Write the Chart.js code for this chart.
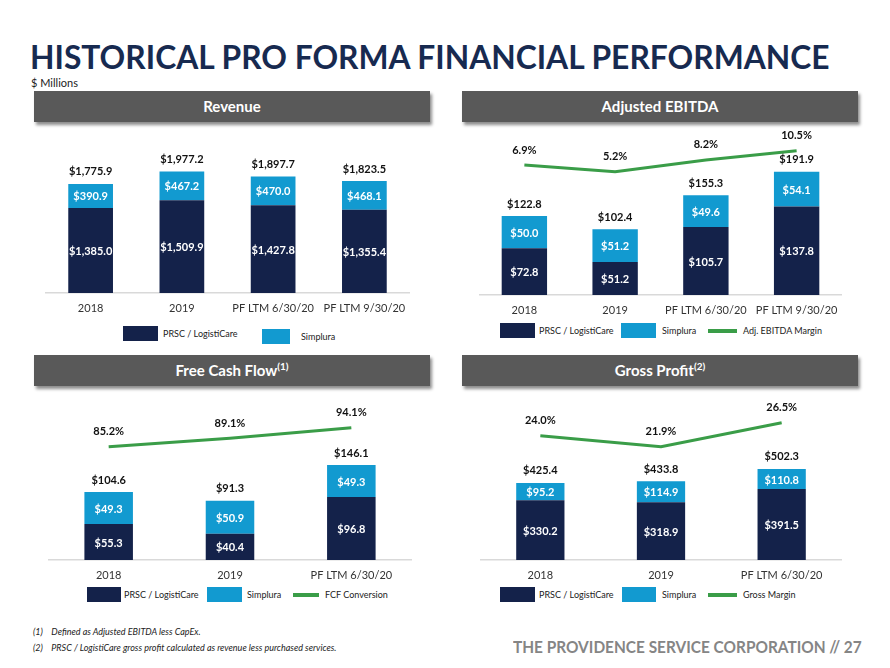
<!DOCTYPE html>
<html>
<head>
<meta charset="utf-8">
<script src="https://cdn.jsdelivr.net/npm/chart.js@4.4.0/dist/chart.umd.min.js"></script>
<style>
  body { margin: 0; background: #fff; font-family: Lato, 'Liberation Sans', sans-serif; }
  #page { position: relative; width: 890px; height: 668px; overflow: hidden; }
  .abs { position: absolute; }
  #title { left: 30px; top: 36px; font-size: 33px; font-weight: 700; color: #172a50; white-space: nowrap; transform-origin: left top; }
  #units { left: 31px; top: 76px; font-size: 11px; color: #222; }
  .hdr { background: #595959; color: #fff; font-weight: bold; font-size: 15px; text-align: center;
         line-height: 31px; height: 31px; width: 396px; box-shadow: 2px 3px 3px rgba(0,0,0,0.45); }
  .hdr sup { font-size: 10px; line-height: 0; }
  .lg-box { position: absolute; height: 15px; }
  .lg-line { position: absolute; height: 4px; background: #3a9d48; }
  .lg-txt { position: absolute; font-size: 9px; color: #222; white-space: nowrap; }
  .note { left: 33px; font-size: 9px; font-style: italic; color: #222; white-space: nowrap; }
  #footer { left: 513px; top: 636px; font-size: 17px; font-weight: bold; color: #858585; white-space: nowrap; transform-origin: left top; }
  canvas { position: absolute; }
</style>
</head>
<body>
<div id="page">
  <div id="title" class="abs">HISTORICAL PRO FORMA FINANCIAL PERFORMANCE</div>
  <div id="units" class="abs">$ Millions</div>

  <div class="abs hdr" style="left:34px;top:91px">Revenue</div>
  <div class="abs hdr" style="left:462px;top:91px">Adjusted EBITDA</div>
  <div class="abs hdr" style="left:34px;top:355px">Free Cash Flow<sup>(1)</sup></div>
  <div class="abs hdr" style="left:462px;top:355px">Gross Profit<sup>(2)</sup></div>

  <canvas id="revChart" style="left:45px;top:130px" width="365" height="188"></canvas>
  <canvas id="ebitdaChart" style="left:479px;top:125px" width="363" height="195"></canvas>
  <canvas id="fcfChart" style="left:48px;top:395px" width="364" height="190"></canvas>
  <canvas id="gpChart" style="left:480px;top:395px" width="362" height="190"></canvas>

  <div id="legends"></div>

  <div class="abs note" style="top:626px">(1)&nbsp;&nbsp;&nbsp;&nbsp;Defined as Adjusted EBITDA less CapEx.</div>
  <div class="abs note" style="top:642px">(2)&nbsp;&nbsp;&nbsp;&nbsp;PRSC / LogistiCare gross profit calculated as revenue less purchased services.</div>
  <div id="footer" class="abs">THE PROVIDENCE SERVICE CORPORATION // 27</div>
</div>

<script>
// Data
const revCategories = ['2018', '2019', 'PF LTM 6/30/20', 'PF LTM 9/30/20'];
const revPrsc = [1385.0, 1509.9, 1427.8, 1355.4];
const revSimplura = [390.9, 467.2, 470.0, 468.1];
const revTotal = [1775.9, 1977.2, 1897.7, 1823.5];

const ebitdaCategories = ['2018', '2019', 'PF LTM 6/30/20', 'PF LTM 9/30/20'];
const ebitdaPrsc = [72.8, 51.2, 105.7, 137.8];
const ebitdaSimplura = [50.0, 51.2, 49.6, 54.1];
const ebitdaTotal = [122.8, 102.4, 155.3, 191.9];
const ebitdaMargin = [6.9, 5.2, 8.2, 10.5];

const fcfCategories = ['2018', '2019', 'PF LTM 6/30/20'];
const fcfPrsc = [55.3, 40.4, 96.8];
const fcfSimplura = [49.3, 50.9, 49.3];
const fcfTotal = [104.6, 91.3, 146.1];
const fcfConversion = [85.2, 89.1, 94.1];

const gpCategories = ['2018', '2019', 'PF LTM 6/30/20'];
const gpPrsc = [330.2, 318.9, 391.5];
const gpSimplura = [95.2, 114.9, 110.8];
const gpTotal = [425.4, 433.8, 502.3];
const gpMargin = [24.0, 21.9, 26.5];

const NAVY = '#14224a';
const BLUE = '#129ad0';
const GREEN = '#3a9d48';
const FONT = "Lato, 'Liberation Sans', sans-serif";

// fit title/footer widths
function fitWidth(id, w) {
    const el = document.getElementById(id);
    el.style.transform = 'scaleX(' + (w / el.scrollWidth) + ')';
}
fitWidth('title', 800);
fitWidth('footer', 349);

const money = v => '$' + v.toLocaleString('en-US', { minimumFractionDigits: 1, maximumFractionDigits: 1 });

// value labels: segments, totals, percents
const valueLabels = {
    id: 'valueLabels',
    afterDatasetsDraw(chart) {
        const ctx = chart.ctx;
        const totals = chart.options.plugins.valueLabels.totals;
        ctx.save();
        ctx.font = 'bold 11px ' + FONT;
        ctx.textAlign = 'center';
        ctx.textBaseline = 'middle';
        chart.data.datasets.forEach((ds, i) => {
            const meta = chart.getDatasetMeta(i);
            meta.data.forEach((el, j) => {
                if (ds.type === 'line') {
                    ctx.fillStyle = '#111';
                    ctx.fillText(ds.data[j].toFixed(1) + '%', el.x, el.y - 15);
                } else {
                    ctx.fillStyle = '#fff';
                    ctx.fillText(money(ds.data[j]), el.x, (el.y + el.base) / 2 + 1);
                }
            });
        });
        const topMeta = chart.getDatasetMeta(1);
        topMeta.data.forEach((el, j) => {
            ctx.fillStyle = '#111';
            ctx.fillText(money(totals[j]), el.x, el.y - 12);
        });
        ctx.restore();
    }
};

function makeChart(id, categories, prsc, simplura, totals, line, lineLabel, cfg) {
    const datasets = [
        { label: 'PRSC / LogistiCare', data: prsc, backgroundColor: NAVY, order: 2,
          barPercentage: cfg.barPct, categoryPercentage: 1 },
        { label: 'Simplura', data: simplura, backgroundColor: BLUE, order: 2,
          barPercentage: cfg.barPct, categoryPercentage: 1 }
    ];
    if (line) {
        datasets.push({ type: 'line', label: lineLabel, data: line, yAxisID: 'y2',
            borderColor: GREEN, borderWidth: 3, pointRadius: 0, tension: 0, order: 1, clip: false });
    }
    return new Chart(document.getElementById(id), {
        type: 'bar',
        data: { labels: categories, datasets: datasets },
        options: {
            responsive: false,
            animation: false,
            layout: { padding: { top: 10, left: 0, right: 0, bottom: 0 } },
            plugins: {
                legend: { display: false },
                tooltip: { enabled: false },
                valueLabels: { totals: totals }
            },
            scales: {
                x: {
                    stacked: true,
                    grid: { display: false },
                    border: { display: true, color: '#d9d9d9', width: 1.5 },
                    ticks: { color: '#333', font: { size: 11, family: FONT }, padding: 1 },
                    afterFit: s => { s.height = 25; }
                },
                y: { stacked: true, display: false, min: 0, max: cfg.yMax },
                y2: { display: false, min: cfg.y2Min, max: cfg.y2Max }
            }
        },
        plugins: [valueLabels]
    });
}

makeChart('revChart', revCategories, revPrsc, revSimplura, revTotal, null, null,
    { yMax: 2490, y2Min: 0, y2Max: 1, barPct: 0.49 });
makeChart('ebitdaChart', ebitdaCategories, ebitdaPrsc, ebitdaSimplura, ebitdaTotal, ebitdaMargin, 'Adj. EBITDA Margin',
    { yMax: 249, y2Min: -25.9, y2Max: 14.5, barPct: 0.5 });
makeChart('fcfChart', fcfCategories, fcfPrsc, fcfSimplura, fcfTotal, fcfConversion, 'FCF Conversion',
    { yMax: 238.5, y2Min: 32.1, y2Max: 104.7, barPct: 0.4 });
makeChart('gpChart', gpCategories, gpPrsc, gpSimplura, gpTotal, gpMargin, 'Gross Margin',
    { yMax: 855, y2Min: 0.2, y2Max: 29.9, barPct: 0.4 });

// legends
const legendHost = document.getElementById('legends');
function addLegend(top, items) {
    items.forEach(it => {
        const mark = document.createElement('div');
        if (it.kind === 'line') {
            mark.className = 'lg-line';
            mark.style.left = it.x + 'px';
            mark.style.top = (top + 6) + 'px';
            mark.style.width = it.w + 'px';
        } else {
            mark.className = 'lg-box';
            mark.style.left = it.x + 'px';
            mark.style.top = (top + (it.dy || 0)) + 'px';
            mark.style.width = it.w + 'px';
            mark.style.background = it.color;
        }
        legendHost.appendChild(mark);
        const txt = document.createElement('div');
        txt.className = 'lg-txt';
        txt.textContent = it.text;
        txt.style.left = it.tx + 'px';
        txt.style.top = (top + 2 + (it.dy || 0)) + 'px';
        legendHost.appendChild(txt);
    });
}
addLegend(326, [
    { kind: 'box', x: 123, w: 35, color: NAVY, text: 'PRSC / LogistiCare', tx: 163 },
    { kind: 'box', x: 262, w: 28, color: BLUE, text: 'Simplura', tx: 301, dy: 3 }
]);
addLegend(323, [
    { kind: 'box', x: 500, w: 35, color: NAVY, text: 'PRSC / LogistiCare', tx: 539 },
    { kind: 'box', x: 621, w: 35, color: BLUE, text: 'Simplura', tx: 662 },
    { kind: 'line', x: 708, w: 29, text: 'Adj. EBITDA Margin', tx: 743 }
]);
addLegend(587, [
    { kind: 'box', x: 87, w: 34, color: NAVY, text: 'PRSC / LogistiCare', tx: 124 },
    { kind: 'box', x: 207, w: 35, color: BLUE, text: 'Simplura', tx: 247 },
    { kind: 'line', x: 293, w: 26, text: 'FCF Conversion', tx: 325 }
]);
addLegend(587, [
    { kind: 'box', x: 500, w: 35, color: NAVY, text: 'PRSC / LogistiCare', tx: 539 },
    { kind: 'box', x: 622, w: 34, color: BLUE, text: 'Simplura', tx: 662 },
    { kind: 'line', x: 708, w: 29, text: 'Gross Margin', tx: 743 }
]);
</script>
</body>
</html>
